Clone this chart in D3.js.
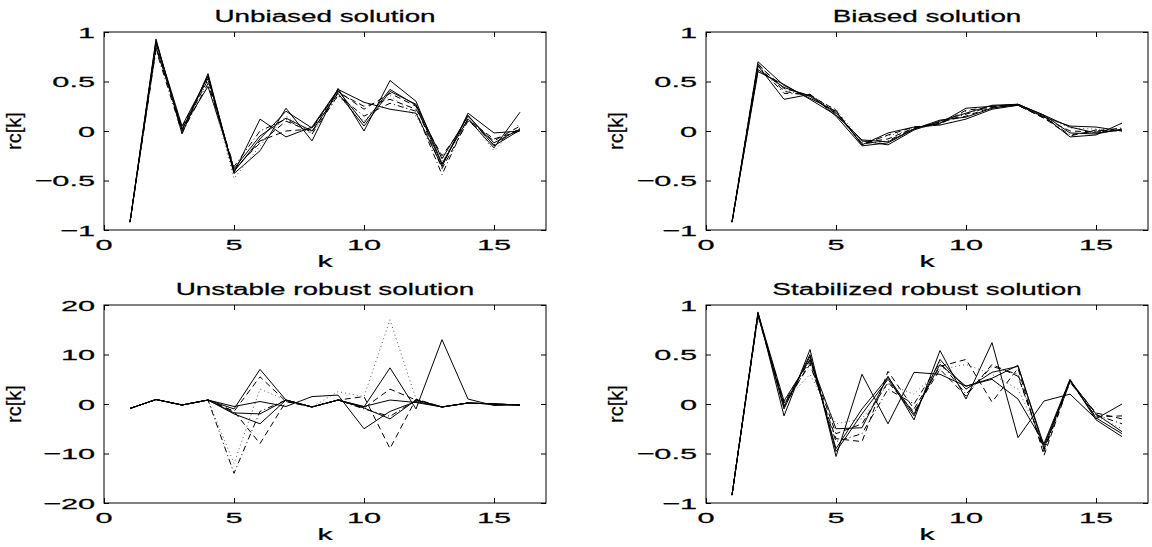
<!DOCTYPE html>
<html>
<head>
<meta charset="utf-8">
<script src="https://cdn.jsdelivr.net/npm/d3@7"></script>
<style>
  body { margin: 0; background: #fff; }
  text { font-family: "Liberation Sans", Arial, sans-serif; fill: #000; }
</style>
</head>
<body>
<svg id="chart"></svg>
<script>
// base settings
const width = 1152;
const height = 547;

// shared data
const ks = d3.range(1, 17);
const xTicks = [0, 5, 10, 15];
const titles = ["Unbiased solution", "Biased solution", "Unstable robust solution", "Stabilized robust solution"];
const yDomains = [[-1, 1], [-1, 1], [-20, 20], [-1, 1]];
const yTicks = [[-1, -0.5, 0, 0.5, 1], [-1, -0.5, 0, 0.5, 1], [-20, -10, 0, 10, 20], [-1, -0.5, 0, 0.5, 1]];
const lineStyles = ["solid", "solid", "solid", "dashed", "dotted", "dashdot", "solid", "dashed"];

// unbiased solution, one row per realisation
const unbiased = [
  [-0.92, 0.93, -0.03, 0.58, -0.42, 0.12, -0.06, 0.04, 0.42, 0.29, 0.22, 0.18, -0.36, 0.18, -0.02, 0.00],
  [-0.92, 0.90, 0.05, 0.55, -0.43, -0.20, 0.23, -0.10, 0.43, 0.00, 0.51, 0.30, -0.33, 0.12, -0.17, 0.19],
  [-0.92, 0.85, 0.02, 0.45, -0.38, -0.05, 0.13, 0.00, 0.38, 0.05, 0.40, 0.27, -0.28, 0.15, -0.12, 0.02],
  [-0.92, 0.88, 0.00, 0.52, -0.40, -0.10, 0.00, 0.02, 0.40, 0.22, 0.38, 0.25, -0.38, 0.10, -0.10, 0.05],
  [-0.92, 0.86, 0.03, 0.50, -0.48, -0.15, 0.15, -0.02, 0.35, 0.10, 0.36, 0.15, -0.30, 0.14, -0.20, 0.08],
  [-0.92, 0.82, -0.02, 0.48, -0.36, 0.00, 0.12, -0.03, 0.36, 0.15, 0.28, 0.20, -0.44, 0.13, -0.14, 0.03],
  [-0.92, 0.91, 0.01, 0.56, -0.41, -0.08, 0.20, 0.03, 0.41, 0.08, 0.42, 0.26, -0.34, 0.16, -0.15, 0.01],
  [-0.92, 0.84, 0.04, 0.53, -0.39, -0.12, 0.10, -0.01, 0.39, 0.25, 0.32, 0.22, -0.25, 0.11, -0.08, 0.00]
];

// biased solution
const biased = [
  [-0.92, 0.66, 0.32, 0.37, 0.15, -0.15, -0.12, 0.02, 0.08, 0.23, 0.25, 0.27, 0.15, -0.06, -0.04, 0.08],
  [-0.92, 0.70, 0.46, 0.33, 0.20, -0.14, -0.02, 0.04, 0.06, 0.12, 0.22, 0.26, 0.14, 0.05, 0.04, 0.00],
  [-0.92, 0.62, 0.44, 0.35, 0.18, -0.10, -0.14, 0.01, 0.10, 0.18, 0.26, 0.27, 0.16, -0.02, -0.03, 0.02],
  [-0.92, 0.68, 0.40, 0.36, 0.17, -0.12, -0.08, 0.03, 0.09, 0.15, 0.24, 0.26, 0.13, 0.00, -0.01, 0.01],
  [-0.92, 0.64, 0.42, 0.34, 0.22, -0.11, -0.05, 0.02, 0.07, 0.20, 0.23, 0.27, 0.15, 0.03, 0.02, 0.00],
  [-0.92, 0.66, 0.38, 0.37, 0.19, -0.13, -0.10, 0.03, 0.08, 0.17, 0.25, 0.26, 0.14, -0.04, 0.00, 0.03],
  [-0.92, 0.60, 0.47, 0.32, 0.16, -0.09, -0.11, 0.02, 0.11, 0.14, 0.23, 0.27, 0.16, 0.04, -0.02, 0.01],
  [-0.92, 0.67, 0.43, 0.36, 0.21, -0.14, -0.04, 0.04, 0.07, 0.21, 0.24, 0.26, 0.13, -0.05, 0.01, 0.00]
];

// unstable robust solution
const unstable = [
  [-0.9, 0.9, -0.2, 0.8, -1.0, 7.0, 0.8, -0.6, 0.8, -0.6, 7.3, -1.0, 13.0, 1.0, -0.3, -0.2],
  [-0.9, 0.9, -0.2, 0.8, -0.5, 0.5, -0.5, 1.5, 1.8, -5.0, -1.5, 0.5, -0.6, 0.2, 0.0, -0.2],
  [-0.9, 0.9, -0.2, 0.8, -1.8, -2.0, 0.8, -0.6, 0.8, -0.5, 0.8, 0.3, -0.6, 0.2, 0.0, -0.2],
  [-0.9, 0.9, -0.2, 0.8, -1.5, 5.5, 0.5, -0.6, 0.8, -0.8, 3.0, 0.8, -0.6, 0.2, 0.0, -0.2],
  [-0.9, 0.9, -0.2, 0.8, -12.0, 3.0, 0.8, -0.6, 2.5, 1.5, 17.0, 1.0, -0.6, 0.2, 0.0, -0.2],
  [-0.9, 0.9, -0.2, 0.8, -14.0, -1.5, 0.8, -0.6, 0.8, -1.0, -2.5, 0.8, -0.6, 0.2, 0.0, -0.2],
  [-0.9, 0.9, -0.2, 0.8, -2.0, -4.0, 0.8, -0.6, 0.8, -0.8, -3.0, 0.8, -0.6, 0.2, 0.0, -0.2],
  [-0.9, 0.9, -0.2, 0.8, -1.5, -8.0, 0.5, -0.6, 0.8, 1.5, -9.0, 1.0, -0.6, 0.2, 0.0, -0.2]
];

// stabilized robust solution
const stabilized = [
  [-0.92, 0.93, -0.12, 0.55, -0.53, 0.30, -0.20, 0.32, 0.30, 0.18, 0.25, 0.05, -0.40, 0.25, -0.16, -0.33],
  [-0.92, 0.92, 0.03, 0.45, -0.25, -0.24, 0.28, -0.16, 0.54, 0.05, 0.62, -0.34, 0.03, 0.10, -0.15, 0.00],
  [-0.92, 0.90, -0.02, 0.48, -0.45, -0.05, 0.27, -0.10, 0.40, 0.18, 0.26, 0.39, -0.45, 0.24, -0.10, -0.28],
  [-0.92, 0.91, 0.00, 0.40, -0.35, -0.38, 0.33, -0.05, 0.38, 0.45, 0.02, 0.36, -0.52, 0.23, -0.09, -0.15],
  [-0.92, 0.88, 0.02, 0.30, -0.20, -0.15, 0.20, 0.10, 0.35, 0.40, 0.30, 0.15, -0.40, 0.22, -0.12, -0.25],
  [-0.92, 0.89, -0.03, 0.42, -0.38, -0.30, 0.15, 0.00, 0.42, 0.10, 0.38, 0.30, -0.48, 0.22, -0.11, -0.20],
  [-0.92, 0.92, -0.05, 0.50, -0.48, -0.10, 0.25, -0.12, 0.45, 0.15, 0.32, 0.38, -0.42, 0.24, -0.14, -0.30],
  [-0.92, 0.90, 0.01, 0.44, -0.30, -0.20, 0.22, -0.08, 0.35, 0.08, 0.40, 0.28, -0.46, 0.23, -0.13, -0.12]
];

const panelData = [unbiased, biased, unstable, stabilized];

// panel layout
const colLeft = [104, 706];
const rowTop = [32, 305];
const pw = 442;
const ph = 198;

const dashes = {
  solid: null,
  dashed: "6,4",
  dotted: "1,3",
  dashdot: "6,3,1,3"
};

const svg = d3.select("#chart").attr("width", width).attr("height", height);

// stretched text helper (the figure is stretched sideways)
function label(g, x, y, txt, size, sx, anchor, rotate) {
  return g.append("text")
    .attr("transform", `translate(${x},${y}) scale(${sx},1)` + (rotate ? " rotate(-90)" : ""))
    .attr("text-anchor", anchor)
    .style("font-size", size + "px")
    .style("stroke", "#000")
    .style("stroke-width", 0.25)
    .text(txt);
}

function fmt(v) {
  return (v < 0 ? "\u2212" : "") + Math.abs(v);
}

panelData.forEach((rows, i) => {
  const left = colLeft[i % 2];
  const top = rowTop[Math.floor(i / 2)];
  const g = svg.append("g");

  const x = d3.scaleLinear().domain([0, 17]).range([left, left + pw]);
  const y = d3.scaleLinear().domain(yDomains[i]).range([top + ph, top]);

  // ticks on all four sides, pointing inward
  g.append("g").attr("transform", `translate(0,${top + ph})`)
    .call(d3.axisBottom(x).tickValues(xTicks).tickSizeInner(-5).tickSizeOuter(0).tickFormat(""));
  g.append("g").attr("transform", `translate(0,${top})`)
    .call(d3.axisTop(x).tickValues(xTicks).tickSizeInner(-5).tickSizeOuter(0).tickFormat(""));
  g.append("g").attr("transform", `translate(${left},0)`)
    .call(d3.axisLeft(y).tickValues(yTicks[i]).tickSizeInner(-5).tickSizeOuter(0).tickFormat(""));
  g.append("g").attr("transform", `translate(${left + pw},0)`)
    .call(d3.axisRight(y).tickValues(yTicks[i]).tickSizeInner(-5).tickSizeOuter(0).tickFormat(""));
  g.selectAll(".domain").remove();
  g.selectAll(".tick line").attr("stroke", "#000");

  g.append("rect")
    .attr("x", left).attr("y", top).attr("width", pw).attr("height", ph)
    .attr("fill", "none").attr("stroke", "#000").attr("stroke-width", 1);

  // tick labels
  xTicks.forEach(t => label(g, x(t), top + ph + 20, fmt(t), 15.5, 1.98, "middle"));
  yTicks[i].forEach(t => label(g, left - 9, y(t) + 5.5, fmt(t), 15.5, 1.98, "end"));

  // titles and axis labels
  label(g, left + pw / 2, top - 10, titles[i], 16, 1.74, "middle");
  label(g, left + pw / 2, top + ph + 37, "k", 16, 1.9, "middle");
  label(g, left - 83, top + ph / 2, "rc[k]", 20, 1, "middle", true);

  // data lines
  const line = d3.line().x((d, j) => x(ks[j])).y(d => y(d));
  rows.forEach((row, j) => {
    const style = lineStyles[j];
    g.append("path")
      .datum(row)
      .attr("d", line)
      .attr("fill", "none")
      .attr("stroke", style === "dotted" ? "#555" : "#000")
      .attr("stroke-width", 1)
      .attr("stroke-dasharray", dashes[style]);
  });
});
</script>
</body>
</html>
